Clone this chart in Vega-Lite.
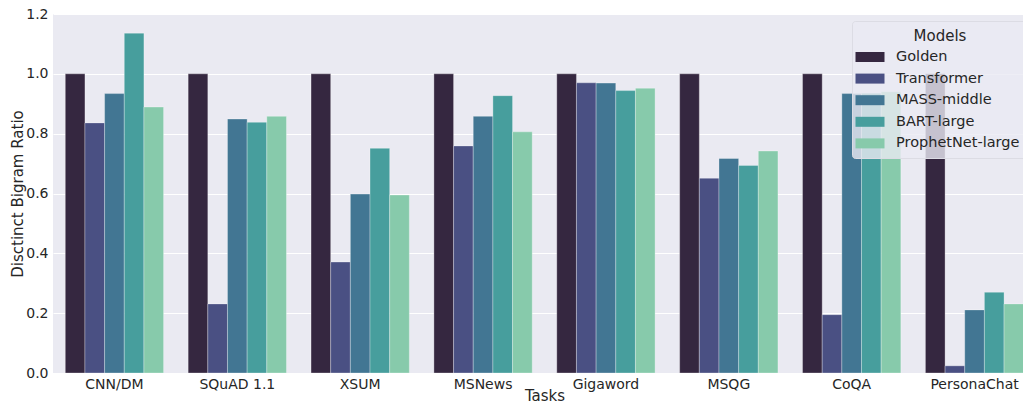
{
  "$schema": "https://vega.github.io/schema/vega-lite/v6.json",
  "autosize": {"type": "none"},
  "width": 970,
  "height": 359,
  "padding": {"left": 53, "top": 14, "right": 0, "bottom": 30},
  "background": "white",
  "config": {
    "font": "DejaVu Sans",
    "view": {"fill": "#EAEAF2", "stroke": null},
    "axis": {"domain": false, "ticks": false, "labelColor": "#262626", "titleColor": "#262626", "labelFontSize": 14, "titleFontSize": 15, "titleFontWeight": "normal", "gridColor": "white", "gridWidth": 1}
  },
  "data": {"values": [
    {"task": "CNN/DM", "model": "Golden", "v": 1.0},
    {"task": "CNN/DM", "model": "Transformer", "v": 0.836},
    {"task": "CNN/DM", "model": "MASS-middle", "v": 0.934},
    {"task": "CNN/DM", "model": "BART-large", "v": 1.136},
    {"task": "CNN/DM", "model": "ProphetNet-large", "v": 0.889},
    {"task": "SQuAD 1.1", "model": "Golden", "v": 1.0},
    {"task": "SQuAD 1.1", "model": "Transformer", "v": 0.231},
    {"task": "SQuAD 1.1", "model": "MASS-middle", "v": 0.849},
    {"task": "SQuAD 1.1", "model": "BART-large", "v": 0.838},
    {"task": "SQuAD 1.1", "model": "ProphetNet-large", "v": 0.858},
    {"task": "XSUM", "model": "Golden", "v": 1.0},
    {"task": "XSUM", "model": "Transformer", "v": 0.371},
    {"task": "XSUM", "model": "MASS-middle", "v": 0.598},
    {"task": "XSUM", "model": "BART-large", "v": 0.751},
    {"task": "XSUM", "model": "ProphetNet-large", "v": 0.595},
    {"task": "MSNews", "model": "Golden", "v": 1.0},
    {"task": "MSNews", "model": "Transformer", "v": 0.759},
    {"task": "MSNews", "model": "MASS-middle", "v": 0.858},
    {"task": "MSNews", "model": "BART-large", "v": 0.927},
    {"task": "MSNews", "model": "ProphetNet-large", "v": 0.806},
    {"task": "Gigaword", "model": "Golden", "v": 1.0},
    {"task": "Gigaword", "model": "Transformer", "v": 0.970},
    {"task": "Gigaword", "model": "MASS-middle", "v": 0.969},
    {"task": "Gigaword", "model": "BART-large", "v": 0.944},
    {"task": "Gigaword", "model": "ProphetNet-large", "v": 0.952},
    {"task": "MSQG", "model": "Golden", "v": 1.0},
    {"task": "MSQG", "model": "Transformer", "v": 0.651},
    {"task": "MSQG", "model": "MASS-middle", "v": 0.717},
    {"task": "MSQG", "model": "BART-large", "v": 0.694},
    {"task": "MSQG", "model": "ProphetNet-large", "v": 0.742},
    {"task": "CoQA", "model": "Golden", "v": 1.0},
    {"task": "CoQA", "model": "Transformer", "v": 0.195},
    {"task": "CoQA", "model": "MASS-middle", "v": 0.934},
    {"task": "CoQA", "model": "BART-large", "v": 0.935},
    {"task": "CoQA", "model": "ProphetNet-large", "v": 0.940},
    {"task": "PersonaChat", "model": "Golden", "v": 1.0},
    {"task": "PersonaChat", "model": "Transformer", "v": 0.024},
    {"task": "PersonaChat", "model": "MASS-middle", "v": 0.211},
    {"task": "PersonaChat", "model": "BART-large", "v": 0.270},
    {"task": "PersonaChat", "model": "ProphetNet-large", "v": 0.231}
  ]},
  "mark": {"type": "bar", "stroke": "white", "strokeWidth": 0.6, "strokeOpacity": 0.5},
  "encoding": {
    "x": {"field": "task", "type": "nominal", "sort": null, "title": "Tasks",
      "scale": {"range": [0, 983], "paddingInner": 0.2, "paddingOuter": 0.1},
      "axis": {"labelAngle": 0, "labelPadding": 4, "titlePadding": -3, "grid": false}},
    "xOffset": {"field": "model", "type": "nominal", "sort": ["Golden", "Transformer", "MASS-middle", "BART-large", "ProphetNet-large"], "scale": {"paddingInner": 0, "paddingOuter": 0}},
    "y": {"field": "v", "type": "quantitative", "title": "Disctinct Bigram Ratio",
      "scale": {"domain": [0, 1.2], "nice": false},
      "axis": {"values": [0, 0.2, 0.4, 0.6, 0.8, 1.0, 1.2], "format": ".1f", "labelPadding": 5, "titlePadding": 0, "grid": true}},
    "color": {"field": "model", "type": "nominal", "sort": ["Golden", "Transformer", "MASS-middle", "BART-large", "ProphetNet-large"],
      "scale": {"domain": ["Golden", "Transformer", "MASS-middle", "BART-large", "ProphetNet-large"], "range": ["#352740", "#4A5083", "#427693", "#479E9D", "#87CAAB"]},
      "legend": {"title": "Models", "orient": "none", "legendX": 799, "legendY": 7,
        "titleAnchor": "middle", "titleFontSize": 15, "titleFontWeight": "normal", "titleColor": "#262626", "titlePadding": 3,
        "labelFontSize": 14.5, "labelColor": "#262626", "labelOffset": 16,
        "symbolType": "M-1.45,-0.5 L1.45,-0.5 L1.45,0.5 L-1.45,0.5 Z", "symbolSize": 400, "symbolStrokeWidth": 0, "symbolOpacity": 1,
        "rowPadding": 4.6, "padding": 8,
        "fillColor": "rgba(234,234,242,0.8)", "strokeColor": "#DCDCE4", "cornerRadius": 3}}
  }
}
